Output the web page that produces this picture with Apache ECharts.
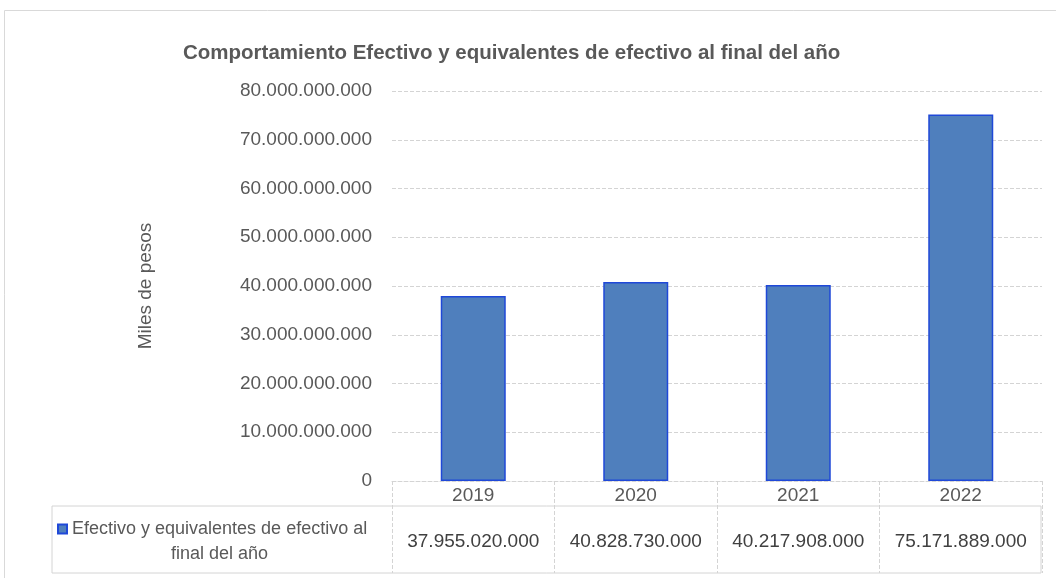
<!DOCTYPE html>
<html>
<head>
<meta charset="utf-8">
<script src="https://cdn.jsdelivr.net/npm/echarts@6.0.0/dist/echarts.min.js"></script>
<style>
    html,body{margin:0;padding:0;background:#fff;}
    #chart{width:1056px;height:578px;}
</style>
</head>
<body>
<div id="chart"></div>
<script>
// datos del grafico
const years=['2019','2020','2021','2022'];
const efectivo=[37955020000,40828730000,40217908000,75171889000];
const serieNombre='Efectivo y equivalentes de efectivo al final del año';
const yMin=0, yMax=80000000000, yStep=10000000000;

const fuente="'Liberation Sans Narrow','Arial Narrow','Liberation Sans',sans-serif";
const gris='#595959';

function miles(v){
    return String(v).replace(/\B(?=(\d{3})+(?!\d))/g,'.');
}

const chart=echarts.init(document.getElementById('chart'));
chart.setOption({
    animation:false,
    textStyle:{fontFamily:fuente},
    title:{
        text:'Comportamiento Efectivo y equivalentes de efectivo al final del año',
        left:178,
        top:38,
        textStyle:{fontFamily:fuente,fontSize:20.5,fontWeight:'bold',color:gris}
    },
    graphic:[{
        type:'rect',
        shape:{x:4.5,y:10.5,width:1100,height:600},
        style:{fill:'none',stroke:'#d9d9d9',lineWidth:1},
        silent:true
    }],
    legend:{
        left:52,
        top:515,
        icon:'rect',
        itemWidth:9,
        itemHeight:9,
        itemGap:0,
        data:[serieNombre],
        formatter:function(){
            return '{a|Efectivo y equivalentes de efectivo al}\n{b|final del año}';
        },
        textStyle:{
            padding:[25,0,0,0],
            rich:{
                a:{fontFamily:fuente,fontSize:18,color:gris,lineHeight:25},
                b:{fontFamily:fuente,fontSize:18,color:gris,lineHeight:25,align:'center'}
            }
        }
    },
    grid:[
        {left:392,right:14,top:91,bottom:97,containLabel:false},
        {left:52,right:15,top:506,height:67,show:true,borderColor:'#d4d4d4',borderWidth:1,backgroundColor:'transparent'}
    ],
    xAxis:[{
        type:'category',
        gridIndex:0,
        data:years,
        axisLine:{show:true,lineStyle:{color:'#d4d4d4',type:'dashed'}},
        axisTick:{show:true,length:92,lineStyle:{color:'#d4d4d4',type:'dashed'}},
        axisLabel:{
            margin:3,
            verticalAlign:'top',
            formatter:function(val,i){
                return '{y|'+val+'}\n{v|'+miles(efectivo[i])+'}';
            },
            rich:{
                y:{fontFamily:fuente,fontSize:19,color:gris,lineHeight:24},
                v:{fontFamily:fuente,fontSize:19,color:'#404040',lineHeight:68}
            }
        }
    },{
        type:'category',gridIndex:1,show:false,data:years
    }],
    yAxis:[{
        type:'value',
        gridIndex:0,
        min:yMin,
        max:yMax,
        interval:yStep,
        name:'Miles de pesos',
        nameLocation:'middle',
        nameGap:237,
        nameRotate:90,
        nameTextStyle:{fontFamily:fuente,fontSize:19,color:gris},
        axisLine:{show:false},
        axisTick:{show:false},
        axisLabel:{
            margin:20,
            fontFamily:fuente,
            fontSize:19,
            color:gris,
            formatter:function(v){return miles(v);}
        },
        splitLine:{lineStyle:{color:'#d4d4d4',type:'dashed'}}
    },{
        type:'value',gridIndex:1,show:false
    }],
    series:[{
        name:serieNombre,
        type:'bar',
        xAxisIndex:0,
        yAxisIndex:0,
        barWidth:'40%',
        data:efectivo,
        itemStyle:{color:'#4f7fbd',borderColor:'#1f48d8',borderWidth:1.5}
    }]
});
</script>
</body>
</html>
